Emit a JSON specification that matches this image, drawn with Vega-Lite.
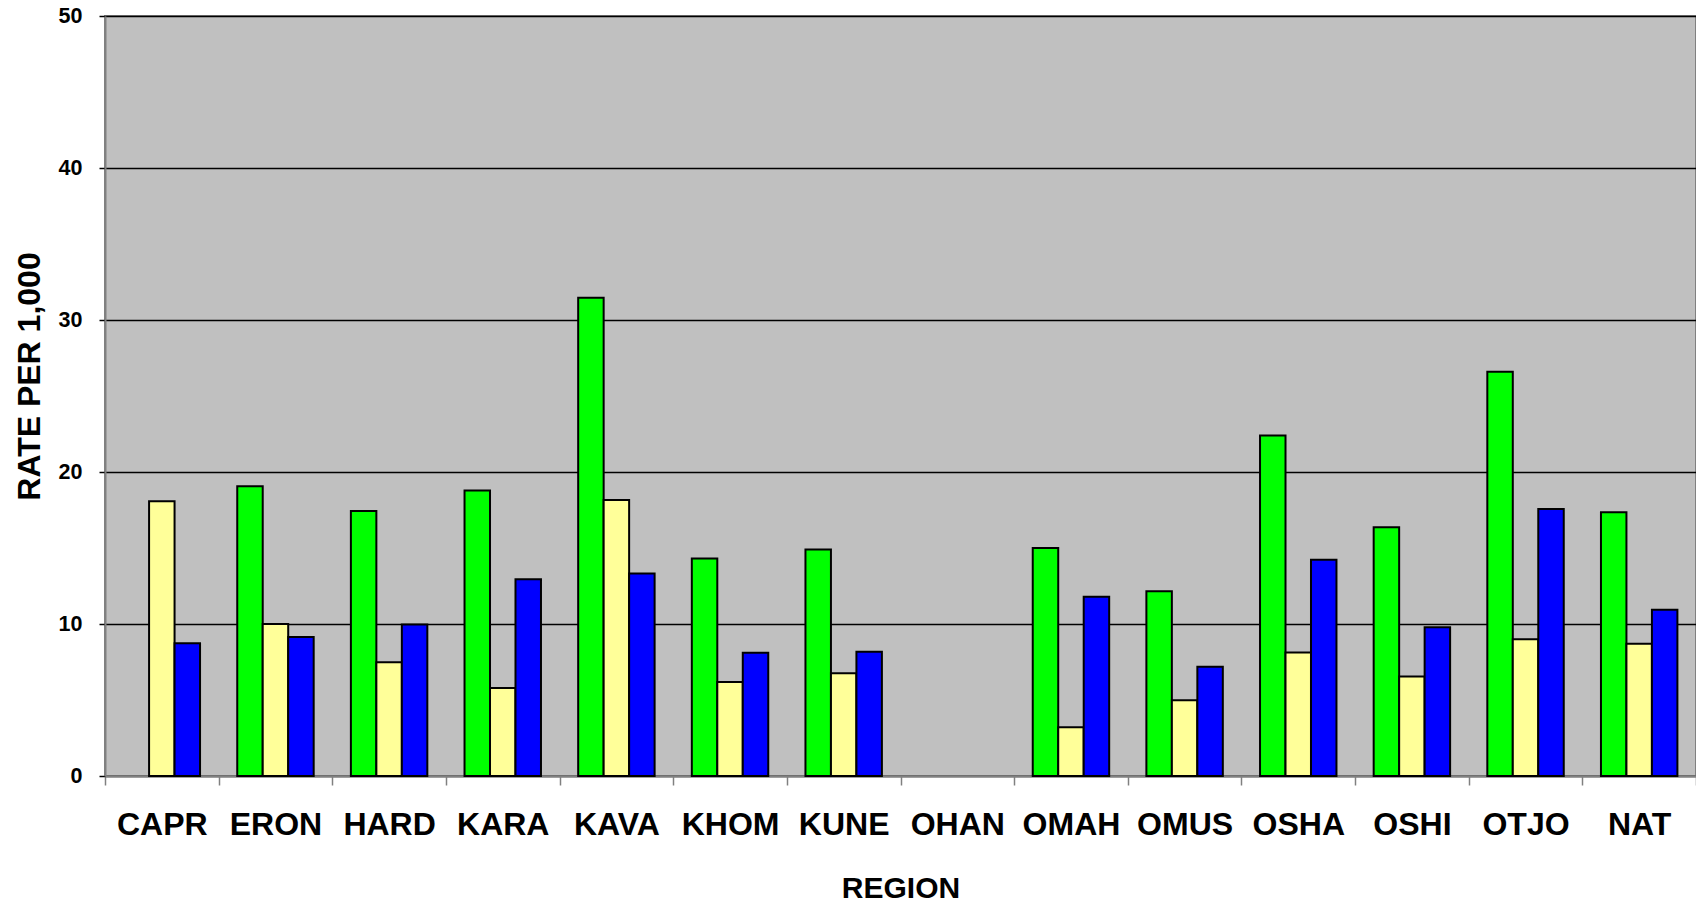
{
  "$schema": "https://vega.github.io/schema/vega-lite/v6.json",
  "width": 1591,
  "height": 760,
  "autosize": {"type": "none"},
  "padding": {"left": 105, "top": 16, "right": 0, "bottom": 127},
  "background": "white",
  "config": {
    "font": "Liberation Sans",
    "view": {"fill": "#C0C0C0", "stroke": "#808080", "strokeWidth": 2}
  },
  "data": {
    "values": [
      {"region": "CAPR", "series": "S2", "value": 18.07},
      {"region": "CAPR", "series": "S3", "value": 8.74},
      {"region": "ERON", "series": "S1", "value": 19.06},
      {"region": "ERON", "series": "S2", "value": 10.0},
      {"region": "ERON", "series": "S3", "value": 9.14},
      {"region": "HARD", "series": "S1", "value": 17.43},
      {"region": "HARD", "series": "S2", "value": 7.49},
      {"region": "HARD", "series": "S3", "value": 9.96},
      {"region": "KARA", "series": "S1", "value": 18.78},
      {"region": "KARA", "series": "S2", "value": 5.79},
      {"region": "KARA", "series": "S3", "value": 12.95},
      {"region": "KAVA", "series": "S1", "value": 31.47},
      {"region": "KAVA", "series": "S2", "value": 18.15},
      {"region": "KAVA", "series": "S3", "value": 13.32},
      {"region": "KHOM", "series": "S1", "value": 14.31},
      {"region": "KHOM", "series": "S2", "value": 6.19},
      {"region": "KHOM", "series": "S3", "value": 8.11},
      {"region": "KUNE", "series": "S1", "value": 14.9},
      {"region": "KUNE", "series": "S2", "value": 6.76},
      {"region": "KUNE", "series": "S3", "value": 8.18},
      {"region": "OMAH", "series": "S1", "value": 15.0},
      {"region": "OMAH", "series": "S2", "value": 3.2},
      {"region": "OMAH", "series": "S3", "value": 11.8},
      {"region": "OMUS", "series": "S1", "value": 12.16},
      {"region": "OMUS", "series": "S2", "value": 4.98},
      {"region": "OMUS", "series": "S3", "value": 7.18},
      {"region": "OSHA", "series": "S1", "value": 22.4},
      {"region": "OSHA", "series": "S2", "value": 8.13},
      {"region": "OSHA", "series": "S3", "value": 14.22},
      {"region": "OSHI", "series": "S1", "value": 16.36},
      {"region": "OSHI", "series": "S2", "value": 6.54},
      {"region": "OSHI", "series": "S3", "value": 9.78},
      {"region": "OTJO", "series": "S1", "value": 26.6},
      {"region": "OTJO", "series": "S2", "value": 8.99},
      {"region": "OTJO", "series": "S3", "value": 17.57},
      {"region": "NAT", "series": "S1", "value": 17.35},
      {"region": "NAT", "series": "S2", "value": 8.7},
      {"region": "NAT", "series": "S3", "value": 10.93}
    ]
  },
  "mark": {"type": "bar", "stroke": "black", "strokeWidth": 2},
  "encoding": {
    "x": {
      "field": "region",
      "type": "nominal",
      "scale": {
        "domain": ["CAPR", "ERON", "HARD", "KARA", "KAVA", "KHOM", "KUNE", "OHAN", "OMAH", "OMUS", "OSHA", "OSHI", "OTJO", "NAT"],
        "paddingInner": 0,
        "paddingOuter": 0
      },
      "axis": {
        "title": "REGION",
        "titleFont": "Liberation Sans",
        "titleFontSize": 30,
        "titleFontWeight": "bold",
        "titleColor": "black",
        "titleBaseline": "alphabetic",
        "titleY": 121,
        "labelAngle": 0,
        "labelFont": "Liberation Sans",
        "labelFontSize": 32,
        "labelFontWeight": "bold",
        "labelColor": "black",
        "labelPadding": 24,
        "tickBand": "extent",
        "tickSize": 9,
        "tickColor": "#808080",
        "tickWidth": 1.5,
        "domainColor": "#808080",
        "domainWidth": 2,
        "grid": false
      }
    },
    "xOffset": {
      "field": "series",
      "type": "nominal",
      "sort": ["S1", "S2", "S3"],
      "scale": {"domain": ["S1", "S2", "S3"], "paddingInner": 0, "paddingOuter": 0.73}
    },
    "y": {
      "field": "value",
      "type": "quantitative",
      "scale": {"domain": [0, 50], "nice": false},
      "axis": {
        "title": "RATE PER 1,000",
        "titleFont": "Liberation Sans",
        "titleFontSize": 32,
        "titleFontWeight": "bold",
        "titleColor": "black",
        "titleBaseline": "alphabetic",
        "titleX": -66,
        "titleY": 360,
        "values": [0, 10, 20, 30, 40, 50],
        "labelFont": "Liberation Sans",
        "labelFontSize": 21.5,
        "labelFontWeight": "bold",
        "labelColor": "black",
        "labelPadding": 17,
        "tickSize": 6,
        "tickColor": "black",
        "tickWidth": 1.5,
        "domainColor": "#808080",
        "domainWidth": 2,
        "grid": true,
        "gridColor": "black",
        "gridWidth": 1.5,
        "gridOpacity": 1
      }
    },
    "color": {
      "field": "series",
      "type": "nominal",
      "scale": {"domain": ["S1", "S2", "S3"], "range": ["#00FF00", "#FFFF99", "#0000FF"]},
      "legend": null
    }
  }
}
